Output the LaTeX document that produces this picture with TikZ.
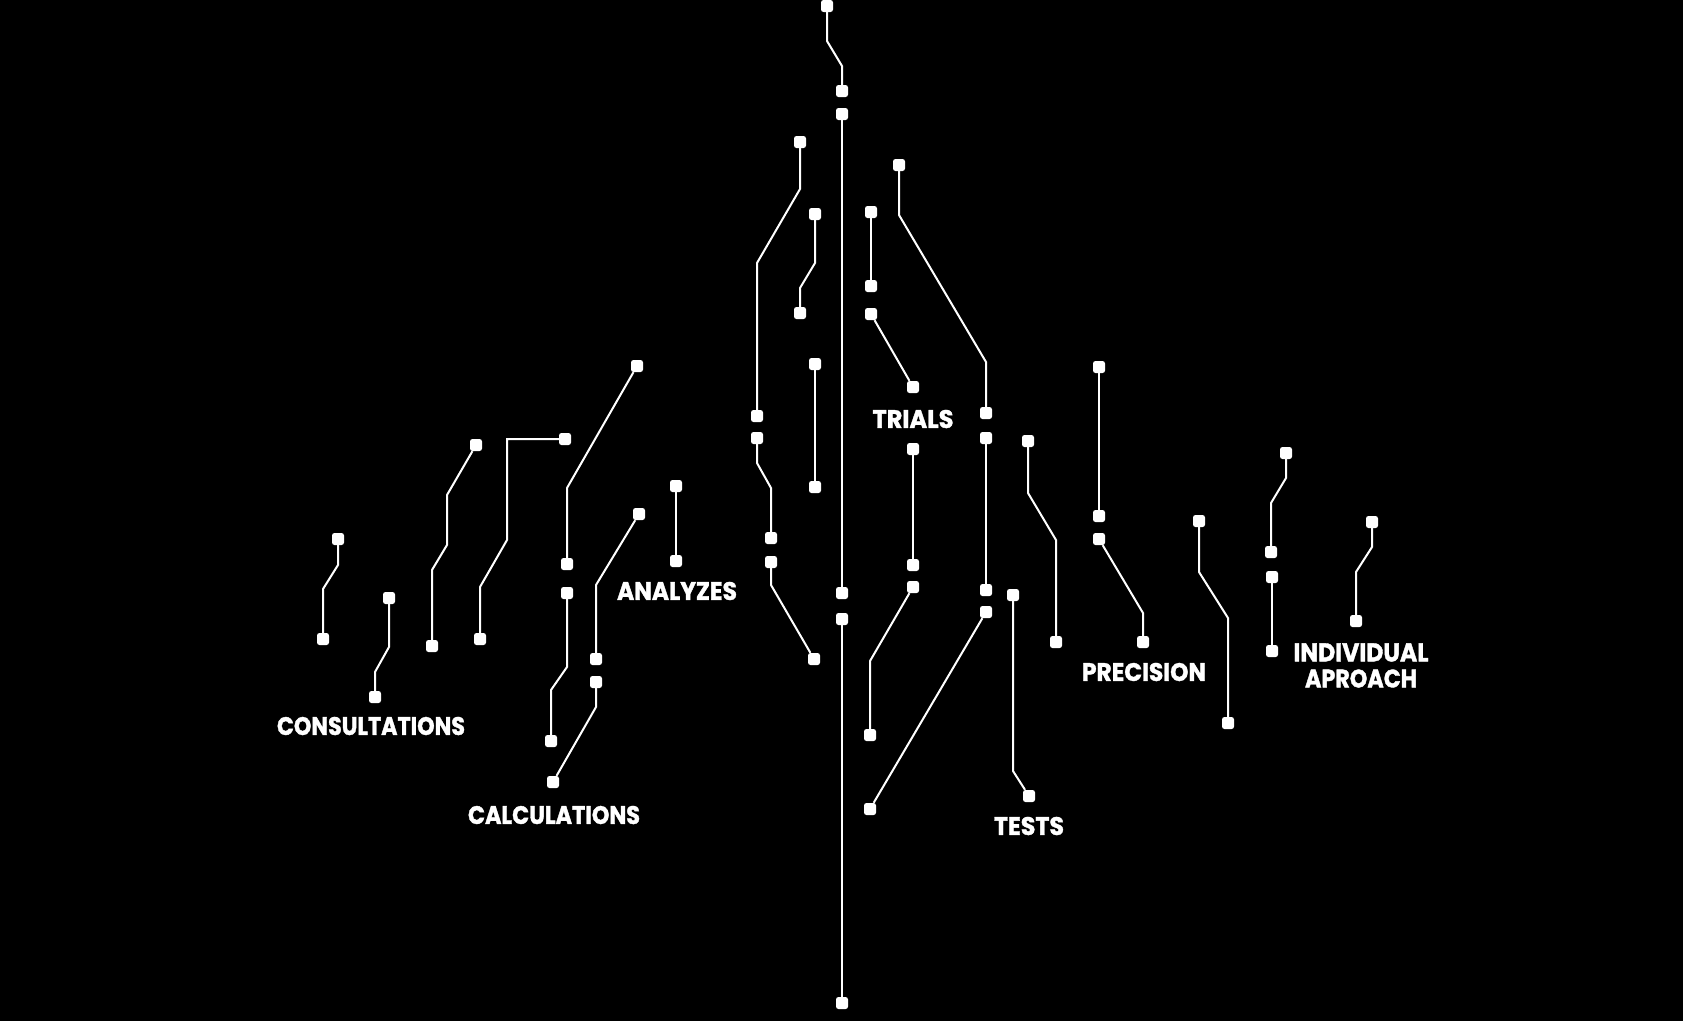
\documentclass[tikz,border=0pt]{standalone}
\usepackage{fontspec}
\setmainfont{Poppins}[BoldFeatures={FakeBold=1.5}]
\usepackage{graphicx}
\begin{document}
\begin{tikzpicture}[x=1pt,y=-1pt,
  sq/.style={rectangle,fill=white,minimum size=12pt,inner sep=0pt,rounded corners=2.5pt},
  ln/.style={draw=white,line width=2pt},
  lbl/.style={text=white,inner sep=0pt,anchor=center}]
\fill[black] (0,0) rectangle (1683,1021);
\useasboundingbox (0,0) rectangle (1683,1021);
\newcommand{\labtxt}[2]{\resizebox{#1pt}{18pt}{\bfseries #2}}
% nodes
\foreach \n/\x/\y in {n1/827/6,n2/842/91,n3/842/114,n4/842/593,n5/842/619,n6/842/1003,
 n7/800/142,n8/757/416,n9/757/438,n10/771/538,n11/771/562,n12/814/659,
 n13/815/214,n14/800/313,n15/815/364,n16/815/487,
 n17/871/212,n18/871/286,n19/871/314,n20/913/387,
 n21/899/165,n22/986/413,n23/986/438,n24/986/590,n25/986/612,n26/870/809,
 n27/913/449,n28/913/565,n29/913/587,n30/870/735,
 n31/1013/595,n32/1029/796,n33/1028/441,n34/1056/642,
 n35/1099/367,n36/1099/516,n37/1099/539,n38/1143/642,
 n39/1199/521,n40/1228/723,n41/1286/453,n42/1271/552,n43/1272/577,n44/1272/651,
 n45/1372/522,n46/1356/621,
 n47/637/366,n48/567/564,n49/565/439,n50/480/639,n51/476/445,n52/432/646,
 n53/338/539,n54/323/639,n55/389/598,n56/375/697,n57/676/486,n58/676/561,
 n59/567/593,n60/551/741,n61/639/514,n62/596/659,n63/596/682,n64/553/782}
  {\node[sq] (\n) at (\x,\y) {};}
% connectors
\draw[ln] (n1) -- (827,41) -- (842,66) -- (n2);
\draw[ln] (n3) -- (n4);
\draw[ln] (n5) -- (n6);
\draw[ln] (n7) -- (800,189) -- (757,263) -- (n8);
\draw[ln] (n9) -- (757,463) -- (771,488) -- (n10);
\draw[ln] (n11) -- (771,585) -- (n12);
\draw[ln] (n13) -- (815,263) -- (800,288) -- (n14);
\draw[ln] (n15) -- (n16);
\draw[ln] (n17) -- (n18);
\draw[ln] (n19) -- (n20);
\draw[ln] (n21) -- (899,215) -- (986,362) -- (n22);
\draw[ln] (n23) -- (n24);
\draw[ln] (n25) -- (n26);
\draw[ln] (n27) -- (n28);
\draw[ln] (n29) -- (870,661) -- (n30);
\draw[ln] (n31) -- (1013,771) -- (n32);
\draw[ln] (n33) -- (1028,493) -- (1056,540) -- (n34);
\draw[ln] (n35) -- (n36);
\draw[ln] (n37) -- (1143,613) -- (n38);
\draw[ln] (n39) -- (1199,572) -- (1228,618) -- (n40);
\draw[ln] (n41) -- (1286,478) -- (1271,503) -- (n42);
\draw[ln] (n43) -- (n44);
\draw[ln] (n45) -- (1372,547) -- (1356,572) -- (n46);
\draw[ln] (n47) -- (567,488) -- (n48);
\draw[ln] (n49) -- (507,439) -- (507,540) -- (480,587) -- (n50);
\draw[ln] (n51) -- (447,495) -- (447,545) -- (432,570) -- (n52);
\draw[ln] (n53) -- (338,565) -- (323,589) -- (n54);
\draw[ln] (n55) -- (389,647) -- (375,672) -- (n56);
\draw[ln] (n57) -- (n58);
\draw[ln] (n59) -- (567,667) -- (551,690) -- (n60);
\draw[ln] (n61) -- (596,585) -- (n62);
\draw[ln] (n63) -- (596,707) -- (n64);
% labels
\node[lbl] (lcons) at (371,726) {\labtxt{188}{CONSULTATIONS}};
\node[lbl] (lcalc) at (554,815) {\labtxt{172}{CALCULATIONS}};
\node[lbl] (lanal) at (677,591) {\labtxt{120}{ANALYZES}};
\node[lbl] (ltrial) at (913,419) {\labtxt{81}{TRIALS}};
\node[lbl] (ltest) at (1029,826) {\labtxt{70}{TESTS}};
\node[lbl] (lprec) at (1144,672) {\labtxt{124}{PRECISION}};
\node[lbl] (lind) at (1361,652.5) {\labtxt{135}{INDIVIDUAL}};
\node[lbl] (lapr) at (1361,678.5) {\labtxt{112}{APROACH}};
\end{tikzpicture}
\end{document}
